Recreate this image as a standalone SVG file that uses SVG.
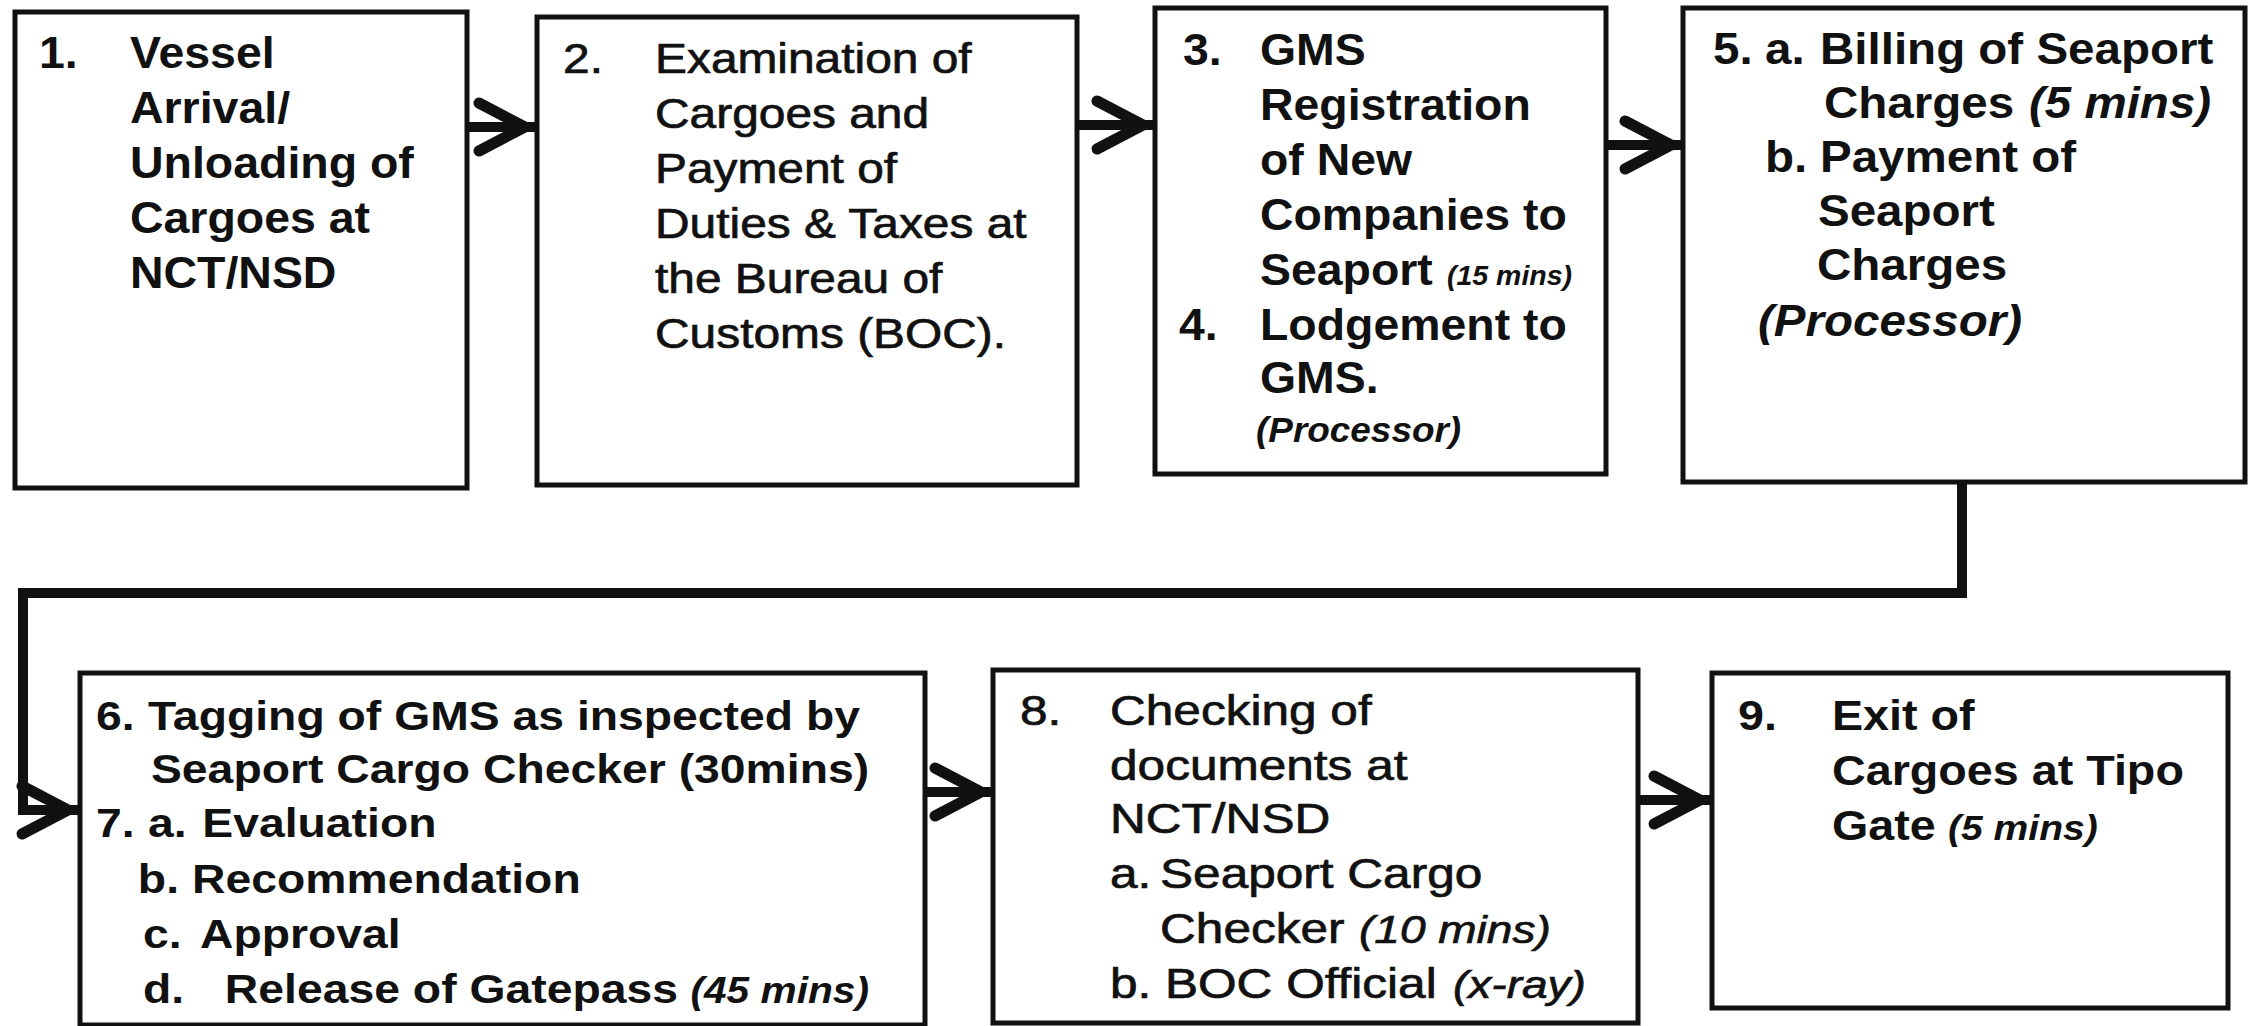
<svg xmlns="http://www.w3.org/2000/svg" width="2250" height="1026" viewBox="0 0 2250 1026">
<style>
.box{fill:#fff;stroke:#111;stroke-width:5}
text{font-family:"Liberation Sans",Arial,sans-serif;fill:#111}
.b{font-weight:bold}
.r{font-weight:normal;stroke:#111;stroke-width:0.7}
.i{font-style:italic}
.conn{fill:none;stroke:#111;stroke-width:10;stroke-linejoin:miter}
</style>
<defs>
<marker id="chev" markerUnits="userSpaceOnUse" viewBox="-70 -40 80 80" markerWidth="80" markerHeight="80" refX="0" refY="0" orient="auto" overflow="visible">
<path d="M-58,-24 L-12,0 L-58,24" fill="none" stroke="#111" stroke-width="11" stroke-linejoin="miter" stroke-linecap="round"/>
</marker>
</defs>
<rect width="2250" height="1026" fill="#fff"/>

<g id="connectors">
<path class="conn" d="M467,127 H537" marker-end="url(#chev)"/>
<path class="conn" d="M1077,125 H1155" marker-end="url(#chev)"/>
<path class="conn" d="M1606,145 H1683" marker-end="url(#chev)"/>
<path class="conn" d="M1962,482 V593 H23 V810 H80" marker-end="url(#chev)"/>
<path class="conn" d="M925,792 H993" marker-end="url(#chev)"/>
<path class="conn" d="M1638,800 H1712" marker-end="url(#chev)"/>
</g>

<g id="node1">
<rect class="box" x="15" y="12" width="452" height="476"/>
<g class="b" font-size="44" transform="scale(1.056,1)">
<text x="36.9" y="68">1.</text>
<text x="123.1" y="68">Vessel</text>
<text x="123.1" y="123">Arrival/</text>
<text x="123.1" y="178">Unloading of</text>
<text x="123.1" y="233">Cargoes at</text>
<text x="123.1" y="288">NCT/NSD</text>
</g>
</g>

<g id="node2">
<rect class="box" x="537" y="17" width="540" height="468"/>
<g class="r" font-size="42" transform="scale(1.14,1)">
<text x="493.9" y="73">2.</text>
<text x="574.6" y="73">Examination of</text>
<text x="574.6" y="128">Cargoes and</text>
<text x="574.6" y="183">Payment of</text>
<text x="574.6" y="238">Duties &amp; Taxes at</text>
<text x="574.6" y="293">the Bureau of</text>
<text x="574.6" y="348">Customs (BOC).</text>
</g>
</g>

<g id="node3">
<rect class="box" x="1155" y="8" width="451" height="466"/>
<g class="b" font-size="44" transform="scale(1.055,1)">
<text x="1121.3" y="65">3.</text>
<text x="1194.3" y="65">GMS</text>
<text x="1194.3" y="120">Registration</text>
<text x="1194.3" y="175">of New</text>
<text x="1194.3" y="230">Companies to</text>
<text x="1194.3" y="285">Seaport</text>
<text class="i" x="1371.6" y="285" font-size="27">(15 mins)</text>
<text x="1117.5" y="340">4.</text>
<text x="1194.3" y="340">Lodgement to</text>
<text x="1194.3" y="393">GMS.</text>
<text class="i" x="1190.5" y="442" font-size="35">(Processor)</text>
</g>
</g>

<g id="node5">
<rect class="box" x="1683" y="8" width="562" height="474"/>
<g class="b" font-size="44" transform="scale(1.08,1)">
<text x="1586.1" y="64">5.</text>
<text x="1634.3" y="64">a.</text>
<text x="1685.2" y="64">Billing of Seaport</text>
<text x="1688.9" y="118">Charges</text>
<text class="i" x="1878.7" y="118">(5 mins)</text>
<text x="1634.3" y="172">b.</text>
<text x="1685.2" y="172">Payment of</text>
<text x="1683.3" y="226">Seaport</text>
<text x="1682.4" y="280">Charges</text>
<text class="i" x="1627.8" y="336">(Processor)</text>
</g>
</g>

<g id="node6">
<rect class="box" x="80" y="673" width="845" height="352"/>
<g class="b" font-size="41" transform="scale(1.13,1)">
<text x="85" y="730">6.</text>
<text x="131" y="730">Tagging of GMS as inspected by</text>
<text x="133.6" y="783">Seaport Cargo Checker (30mins)</text>
<text x="85" y="837">7.</text>
<text x="131" y="837">a.</text>
<text x="179" y="837">Evaluation</text>
<text x="122" y="893">b.</text>
<text x="170" y="893">Recommendation</text>
<text x="126.5" y="948">c.</text>
<text x="177" y="948">Approval</text>
<text x="126.5" y="1003">d.</text>
<text x="199" y="1003">Release of Gatepass</text>
<text class="i" x="611" y="1003" font-size="36">(45 mins)</text>
</g>
</g>

<g id="node8">
<rect class="box" x="993" y="670" width="645" height="353"/>
<g class="r" font-size="42" transform="scale(1.18,1)">
<text x="864.4" y="725">8.</text>
<text x="940.7" y="725">Checking of</text>
<text x="940.7" y="780">documents at</text>
<text x="940.7" y="833">NCT/NSD</text>
<text x="940.7" y="888">a.</text>
<text x="983.1" y="888">Seaport Cargo</text>
<text x="983.1" y="943">Checker</text>
<text class="i" x="1151.7" y="943" font-size="39">(10 mins)</text>
<text x="940.7" y="998">b.</text>
<text x="987.3" y="998">BOC Official</text>
<text class="i" x="1231.4" y="998" font-size="39">(x-ray)</text>
</g>
</g>

<g id="node9">
<rect class="box" x="1712" y="673" width="516" height="335"/>
<g class="b" font-size="43" transform="scale(1.086,1)">
<text x="1600.4" y="730">9.</text>
<text x="1686.9" y="730">Exit of</text>
<text x="1686.9" y="785">Cargoes at Tipo</text>
<text x="1686.9" y="840">Gate</text>
<text class="i" x="1793.7" y="840" font-size="36">(5 mins)</text>
</g>
</g>
</svg>
